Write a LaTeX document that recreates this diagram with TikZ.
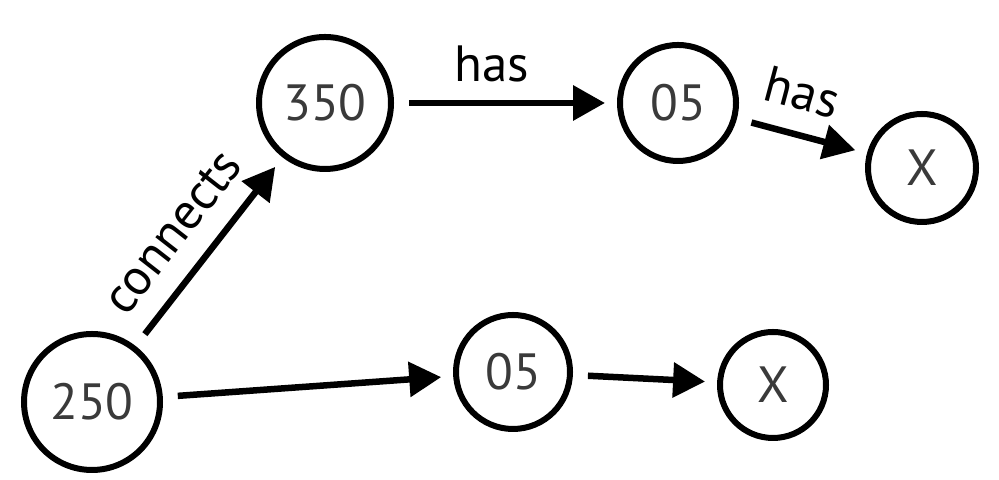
\documentclass[tikz,border=0pt]{standalone}
\usepackage{fontspec}
\setmainfont{PT Sans}
\usepackage{xcolor}
\usetikzlibrary{arrows.meta}
\definecolor{numgray}{HTML}{3A3A3A}

\begin{document}
\begin{tikzpicture}[
    % styles
    num/.style   = {circle, draw, line width=0.06cm, inner sep=0pt,
                    text=numgray, font=\fontsize{14.5}{16}\selectfont},
    arrow/.style = {-{Triangle[length=0.32cm, width=0.34cm]}, line width=0.065cm,
                    shorten <=0.15cm, shorten >=0.12cm},
    lbl/.style   = {font=\fontsize{14.5}{16}\selectfont, inner sep=1pt},
]
\useasboundingbox (0,0) rectangle (9.99,4.8);

% ── Noeuds ───────────────────────────────────────────────────────────────────
\node[num, minimum size=1.36cm] (n250)  at (0.92,0.78) {250};
\node[num, minimum size=1.32cm] (n350)  at (3.25,3.77) {350};
\node[num, minimum size=1.16cm] (top05) at (6.78,3.77) {05};
\node[num, minimum size=1.08cm] (topx)  at (9.22,3.12) {X};
\node[num, minimum size=1.14cm] (bot05) at (5.13,1.08) {05};
\node[num, minimum size=1.06cm] (botx)  at (7.73,0.95) {X};

% ── Flèches du haut ──────────────────────────────────────────────────────────
\draw[arrow] (n250)  -- node[lbl, pos=0.47, sloped, above=5pt] {connects} (n350);
\draw[arrow] (n350)  -- node[lbl, pos=0.44, above=4pt] {has} (top05);
\draw[arrow] (top05) -- node[lbl, pos=0.42, sloped, above=5pt] {has} (topx);

% ── Flèches du bas ───────────────────────────────────────────────────────────
\draw[arrow] (n250)  -- (bot05);
\draw[arrow] (bot05) -- (botx);

\end{tikzpicture}
\end{document}
